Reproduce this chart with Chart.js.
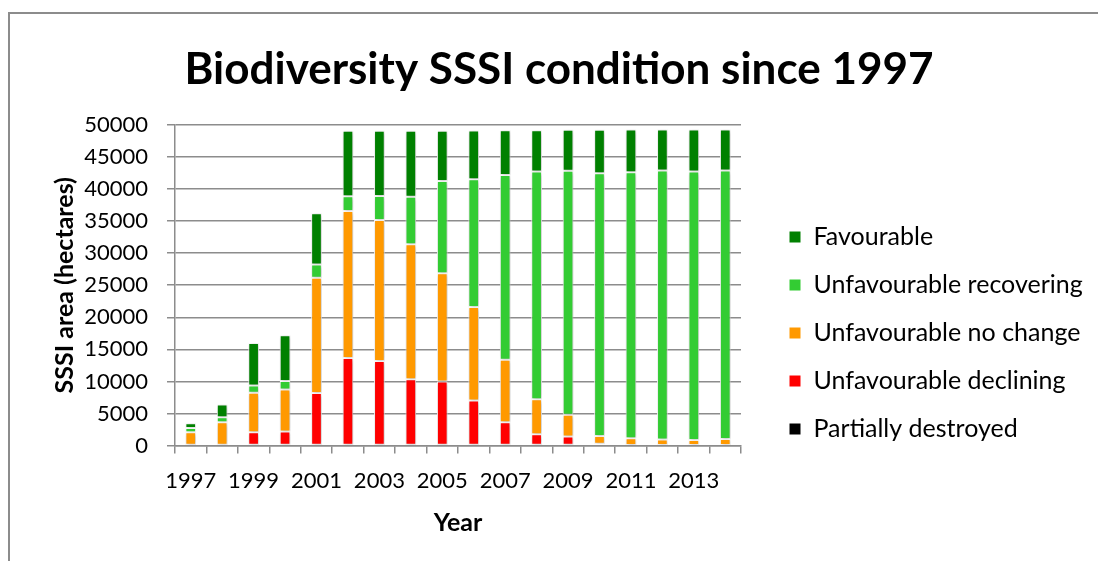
<!DOCTYPE html>
<html>
<head>
<meta charset="utf-8">
<script src="https://cdn.jsdelivr.net/npm/chart.js@4.4.1/dist/chart.umd.min.js"></script>
<style>
    html, body { margin: 0; padding: 0; background: #fff; }
    #wrap { position: relative; width: 1098px; height: 561px; overflow: hidden; }
    #frame { position: absolute; left: 8px; top: 12px; width: 1200px; height: 700px; border: 2px solid #8c8c8c; }
    canvas { position: absolute; left: 0; top: 0; }
</style>
</head>
<body>
<div id="wrap">
    <div id="frame"></div>
    <canvas id="myChart" width="1098" height="561"></canvas>
</div>
<script>
// chart data (hectares)
const years = ['1997', '1998', '1999', '2000', '2001', '2002', '2003', '2004', '2005',
    '2006', '2007', '2008', '2009', '2010', '2011', '2012', '2013', '2014'];
const partiallyDestroyed = [0, 0, 0, 0, 0, 0, 0, 0, 0, 0, 0, 0, 0, 0, 0, 0, 0, 0];
const declining = [0, 0, 2080, 2190, 8180, 13650, 13180, 10360, 10000,
    7030, 3650, 1770, 1410, 300, 100, 100, 100, 100];
const noChange = [2100, 3650, 6150, 6560, 17970, 22920, 21980, 21040, 16880,
    14580, 9740, 5470, 3390, 1200, 1050, 840, 790, 940];
const recovering = [650, 780, 1150, 1300, 2080, 2290, 3750, 7400, 14380,
    19900, 28800, 35470, 38020, 40950, 41450, 41930, 41820, 41830];
const favourable = [750, 1980, 6620, 7140, 7970, 10210, 10160, 10260, 7810,
    7600, 6980, 6460, 6410, 6770, 6670, 6400, 6560, 6400];

const FONT = 'Lato';

// soft shadow round the bars like the original
const barShadow = {
    id: 'barShadow',
    beforeDatasetsDraw(chart) {
        const c = chart.ctx;
        c.save();
        c.shadowColor = 'rgba(0,0,0,0.28)';
        c.shadowBlur = 4;
        c.shadowOffsetX = 1;
        c.shadowOffsetY = 1;
    },
    afterDatasetsDraw(chart) {
        chart.ctx.restore();
    }
};

// legend sits further right than chart.js wants, title centred on the frame
const legendPlace = {
    id: 'legendPlace',
    afterLayout(chart) {
        const lg = chart.legend;
        lg.left = 766; lg.right = 1098; lg.width = lg.right - lg.left;
        lg.top = 201.5; lg.bottom = 561; lg.height = lg.bottom - lg.top;
        const t = chart.titleBlock;
        t.left = 20; t.right = 1098; t.width = t.right - t.left;
    }
};

const ds = (label, data, color) => ({
    label: label,
    data: data,
    backgroundColor: color,
    borderColor: '#ffffff',
    borderWidth: 1,
    borderSkipped: false,
    barPercentage: 1,
    categoryPercentage: 0.34
});

const ctx = document.getElementById('myChart');

new Chart(ctx, {
    type: 'bar',
    data: {
        labels: years,
        datasets: [
            ds('Partially destroyed', partiallyDestroyed, '#000000'),
            ds('Unfavourable declining', declining, '#ff0000'),
            ds('Unfavourable no change', noChange, '#ff9900'),
            ds('Unfavourable recovering', recovering, '#33cc33'),
            ds('Favourable', favourable, '#008000')
        ]
    },
    options: {
        responsive: false,
        animation: false,
        layout: { padding: { left: 46, right: 157, top: 0, bottom: 14 } },
        scales: {
            x: {
                stacked: true,
                grid: { drawOnChartArea: false, drawTicks: true, tickLength: 8, color: '#8c8c8c', lineWidth: 1.5 },
                border: { color: '#8c8c8c', width: 1.5 },
                ticks: {
                    autoSkip: false,
                    maxRotation: 0,
                    padding: 14,
                    color: '#000',
                    font: { family: FONT, size: 22 },
                    callback: function (v, i) { return i % 2 === 0 ? this.getLabelForValue(v) : ''; }
                },
                title: { display: true, text: 'Year', color: '#000',
                    font: { family: FONT, size: 25, weight: 'bold' }, padding: { top: 0, bottom: 9 } }
            },
            y: {
                stacked: true,
                min: 0,
                max: 50000,
                afterFit: (scale) => { scale.width = 129; },
                grid: { color: '#8c8c8c', lineWidth: 1.5, tickLength: 8 },
                border: { color: '#8c8c8c', width: 1.5 },
                ticks: { stepSize: 5000, padding: 19, color: '#000', font: { family: FONT, size: 22 },
                    callback: (v) => String(v) },
                title: { display: true, text: 'SSSI area (hectares)', color: '#000',
                    font: { family: FONT, size: 25, weight: 'bold' }, padding: { top: 4, bottom: 4 } }
            }
        },
        plugins: {
            title: {
                display: true,
                text: 'Biodiversity SSSI condition since 1997',
                color: '#000',
                font: { family: FONT, size: 44, weight: 'bold' },
                padding: { top: 43, bottom: 29 }
            },
            legend: {
                position: 'right',
                align: 'start',
                reverse: true,
                maxWidth: 200,
                labels: {
                    boxWidth: 12,
                    boxHeight: 12,
                    padding: 23,
                    color: '#000',
                    font: { family: FONT, size: 25 }
                }
            },
            tooltip: { enabled: false }
        }
    },
    plugins: [barShadow, legendPlace]
});
</script>
</body>
</html>
